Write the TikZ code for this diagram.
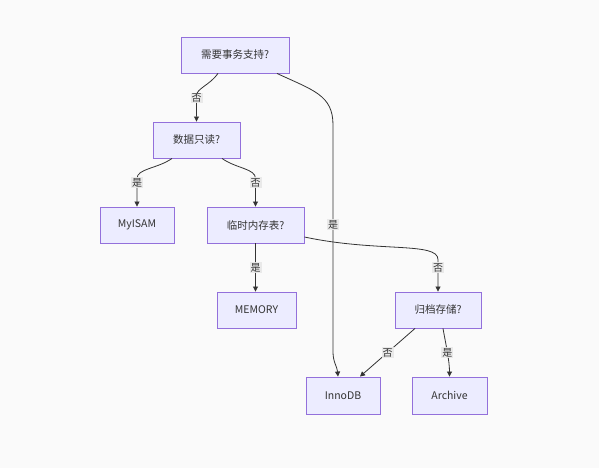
\documentclass[tikz,border=0pt]{standalone}
\usepackage{fontspec}
\setmainfont{Noto Sans CJK SC}
\usepackage{xcolor}
\usetikzlibrary{arrows.meta}

\definecolor{boxfill}{HTML}{ECECFF}
\definecolor{boxline}{HTML}{9370DB}
\definecolor{edgeline}{HTML}{333333}
\definecolor{lblfill}{HTML}{E8E8E8}
\definecolor{pagebg}{HTML}{FAFAFA}

\begin{document}
\begin{tikzpicture}[x=1pt,y=-1pt,font=\fontsize{10.5}{12}\selectfont,text=edgeline,
  box/.style={draw=boxline,fill=boxfill,line width=0.9pt,minimum height=36pt,inner sep=0pt},
  edge/.style={draw=edgeline,line width=0.8pt,-{Triangle[length=5pt,width=5pt]}},
  lbl/.style={fill=lblfill,fill opacity=0.9,text opacity=1,inner sep=1pt,font=\fontsize{10}{11}\selectfont}]

\fill[pagebg] (0,0) rectangle (599,468);
\useasboundingbox (0,0) rectangle (599,468);

% decision boxes
\node[box,minimum width=108pt] (txn) at (235,55) {需要事务支持?};
\node[box,minimum width=87pt] (ro) at (196.5,140) {数据只读?};
\node[box,minimum width=74pt] (myisam) at (137,225) {MyISAM};
\node[box,minimum width=97pt] (tmp) at (255.5,225) {临时内存表?};
\node[box,minimum width=79pt] (memory) at (256.5,310) {MEMORY};
\node[box,minimum width=86pt] (arch) at (438,310) {归档存储?};
\node[box,minimum width=74pt,minimum height=37pt] (innodb) at (343,395.5) {InnoDB};
\node[box,minimum width=75pt,minimum height=37pt] (archive) at (449.5,395.5) {Archive};

% bend points of the long edge
\coordinate (k1) at (333,125);
\coordinate (k2) at (333,352);

% edges
\draw[edge] ([xshift=-17pt]txn.south) .. controls +(-125:14pt) and +(90:7pt) .. ([yshift=26pt]ro.north)
  -- node[lbl,pos=0.1] {否} (ro.north);
\draw[edge] ([xshift=-24.5pt]ro.south) .. controls +(-145:18pt) and +(90:10pt) .. ([yshift=28pt]myisam.north)
  -- node[lbl,pos=0.15] {是} (myisam.north);
\draw[edge] ([xshift=25.5pt]ro.south) .. controls +(-35:18pt) and +(90:10pt) .. ([yshift=28pt]tmp.north)
  -- node[lbl,pos=0.15] {否} (tmp.north);
\draw[edge] (tmp.south) -- node[lbl] {是} (tmp.south |- memory.north);
\draw[edge] ([yshift=-12pt]tmp.east) .. controls +(-12:75pt) and +(90:18pt) .. ([yshift=32pt]arch.north)
  -- node[lbl,pos=0.25] {否} (arch.north);
\draw[edge] ([xshift=42pt]txn.south) .. controls +(-25:40pt) and +(90:30pt) .. (k1)
  -- node[lbl,pos=0.44] {是} (k2) .. controls +(-90:10pt) and +(95:10pt) .. ([xshift=-5pt]innodb.north);
\draw[edge] ([xshift=-23pt]arch.south) -- node[lbl] {否} ([xshift=17pt]innodb.north);
\draw[edge] ([xshift=5pt]arch.south) .. controls +(-80:16pt) and +(90:16pt) .. node[lbl] {是} (archive.north);

\end{tikzpicture}
\end{document}
